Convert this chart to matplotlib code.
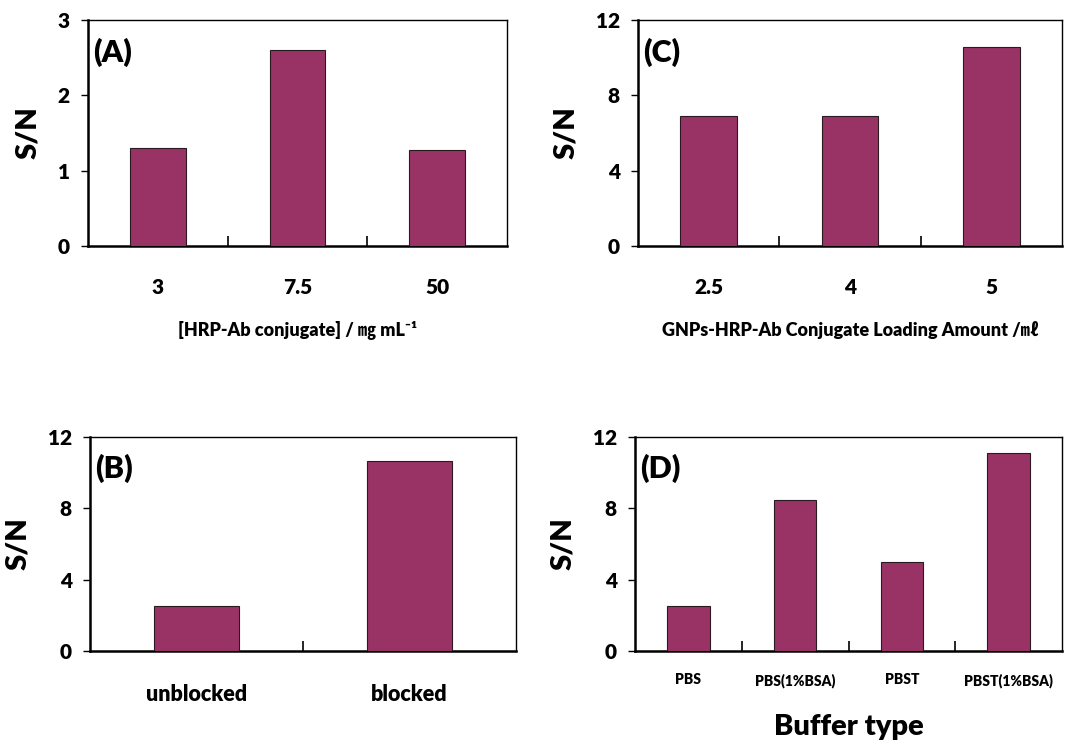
import matplotlib
matplotlib.use("Agg")
import matplotlib.pyplot as plt
import numpy as np

plt.rcParams['font.family'] = ['Lato', 'Noto Sans CJK SC', 'DejaVu Sans']

# Data
a_cats = ["3", "7.5", "50"]
a_vals = [1.30, 2.60, 1.27]
c_cats = ["2.5", "4", "5"]
c_vals = [6.88, 6.88, 10.55]
b_cats = ["unblocked", "blocked"]
b_vals = [2.53, 10.63]
d_cats = ["PBS", "PBS(1%BSA)", "PBST", "PBST(1%BSA)"]
d_vals = [2.50, 8.46, 5.01, 11.10]

BAR = "#993366"
EDGE = "#2a1a20"
W = 'heavy'

fig = plt.figure(figsize=(10.77, 7.40), dpi=100)

def panel(rect, cats, vals, ymax, yticks, tag, tick_fs, xlabel=None, xlabel_fs=12, xlabel_pad=10, tick_pad=14):
    ax = fig.add_axes(rect)
    n = len(cats)
    x = np.arange(n)
    ax.bar(x, vals, width=0.4, color=BAR, edgecolor=EDGE, linewidth=0.8, zorder=3)
    ax.set_xlim(-0.5, n - 0.5)
    ax.set_ylim(0, ymax)
    ax.set_yticks(yticks)
    ax.set_yticklabels([str(t) for t in yticks], fontsize=15, fontweight=W)
    ax.tick_params(axis='y', direction='out', length=5, width=1, pad=8)
    # boundaries ticks (major), labels at centers (minor)
    ax.set_xticks(np.arange(0.5, n - 0.5, 1.0))
    ax.set_xticklabels([])
    ax.tick_params(axis='x', which='major', direction='in', length=7, width=1.2)
    ax.set_xticks(x, minor=True)
    ax.set_xticklabels(cats, minor=True, fontsize=tick_fs, fontweight=W)
    ax.tick_params(axis='x', which='minor', length=0, pad=tick_pad)
    for s in ['left', 'bottom']:
        ax.spines[s].set_linewidth(1.8)
    for s in ['top', 'right']:
        ax.spines[s].set_linewidth(1.0)
    ax.set_ylabel("S/N", fontsize=21, fontweight=W, labelpad=12)
    ax.text(0.012, 0.855, tag, transform=ax.transAxes, fontsize=22,
            fontweight=W, ha='left', va='center')
    if xlabel:
        ax.set_xlabel(xlabel, fontsize=xlabel_fs, fontweight=W, labelpad=xlabel_pad)
    return ax

axA = panel([0.0817, 0.6676, 0.389, 0.3054], a_cats, a_vals, 3, [0, 1, 2, 3], "(A)", 15,
            xlabel="[HRP-Ab conjugate] / ㎎ mL⁻¹", xlabel_fs=13, xlabel_pad=17, tick_pad=23)
axC = panel([0.5924, 0.6676, 0.3937, 0.3054], c_cats, c_vals, 12, [0, 4, 8, 12], "(C)", 15,
            xlabel="GNPs-HRP-Ab Conjugate Loading Amount /㎖", xlabel_fs=13, xlabel_pad=17, tick_pad=23)
axB = panel([0.0836, 0.1203, 0.3955, 0.2892], b_cats, b_vals, 12, [0, 4, 8, 12], "(B)", 15.5,
            tick_pad=24)
axD = panel([0.5896, 0.1203, 0.3965, 0.2892], d_cats, d_vals, 12, [0, 4, 8, 12], "(D)", 10,
            xlabel="Buffer type", xlabel_fs=21, xlabel_pad=19, tick_pad=16)

fig.savefig("out.png", dpi=100)
